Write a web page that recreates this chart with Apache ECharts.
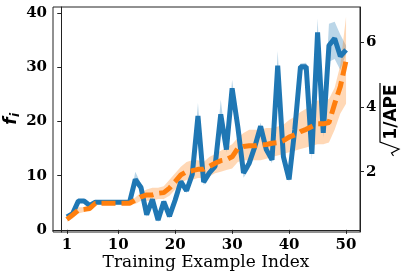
<!DOCTYPE html>
<html>
<head>
<meta charset="utf-8">
<script src="https://cdn.jsdelivr.net/npm/echarts@6/dist/echarts.min.js"></script>
<style>html,body{margin:0;padding:0;background:#fff;}#c{width:407px;height:279px;}</style>
</head>
<body>
<div id="c"></div>
<script>
var xIdx = [];
for (var k = 1; k <= 50; k++) xIdx.push(k);
var xTicks = [1, 10, 20, 30, 40, 50];
var leftTicks = [0, 10, 20, 30, 40];
var rightTicks = [2, 4, 6];

var fValues = [2.4, 3.0, 5.3, 5.3, 4.5, 5.1, 5.1, 5.1, 5.1, 5.1, 5.1, 5.1, 9.3, 7.8, 2.8, 5.6, 1.8, 5.2, 2.5, 5.5,
               8.9, 7.2, 10.2, 21.0, 8.8, 10.5, 11.7, 21.3, 14.8, 26.1, 19.0, 10.5, 12.3, 15.4, 19.1, 14.8, 12.9, 30.3, 13.5, 9.3,
               18.5, 30.1, 30.1, 14.0, 36.4, 17.9, 34.0, 35.3, 32.0, 33.2];
var fLow = [2.1, 2.7, 5.0, 5.0, 4.2, 4.9, 4.9, 4.9, 4.9, 4.9, 4.9, 4.9, 8.3, 7.2, 2.4, 5.2, 1.4, 4.8, 2.1, 5.1,
            8.4, 6.8, 9.8, 20.2, 8.2, 10.0, 11.2, 20.4, 14.2, 25.2, 18.2, 9.6, 11.2, 14.8, 18.4, 14.2, 12.3, 29.3, 12.9, 8.8,
            17.8, 29.5, 29.4, 12.9, 35.5, 17.0, 31.0, 31.5, 29.5, 32.5];
var fHigh = [2.7, 3.3, 5.6, 5.6, 4.8, 5.3, 5.3, 5.3, 5.3, 5.3, 5.3, 5.3, 10.7, 8.5, 3.2, 6.0, 2.2, 5.6, 2.9, 5.9,
             9.4, 7.6, 10.6, 23.4, 9.4, 11.0, 12.2, 24.0, 15.4, 27.7, 19.8, 11.2, 13.0, 16.0, 19.8, 15.4, 13.5, 33.0, 14.1, 9.8,
             19.2, 30.7, 30.8, 15.0, 39.0, 18.8, 38.0, 38.4, 36.0, 34.0];

var apeValues = [0.52, 0.66, 0.81, 0.83, 0.86, 1.02, 1.02, 1.02, 1.02, 1.02, 1.02, 1.02, 1.12, 1.22, 1.28, 1.28, 1.33, 1.35, 1.49, 1.69,
                 1.90, 2.00, 2.03, 2.07, 2.07, 2.16, 2.26, 2.34, 2.37, 2.46, 2.72, 2.78, 2.80, 2.80, 2.83, 2.84, 2.88, 2.90, 2.96, 3.07,
                 3.14, 3.24, 3.31, 3.40, 3.48, 3.48, 3.52, 4.10, 4.64, 5.44];
var apeLow = [0.45, 0.55, 0.70, 0.75, 0.80, 0.98, 0.98, 0.98, 0.98, 0.98, 0.98, 0.98, 1.00, 1.10, 1.10, 1.10, 1.15, 1.15, 1.25, 1.45,
              1.65, 1.75, 1.75, 1.80, 1.80, 1.85, 1.95, 2.00, 2.05, 2.10, 2.30, 2.35, 2.35, 2.35, 2.35, 2.40, 2.45, 2.50, 2.55, 2.60,
              2.65, 2.70, 2.75, 2.80, 2.85, 2.85, 2.90, 3.30, 3.80, 4.10];
var apeHigh = [0.60, 0.75, 0.90, 0.90, 0.95, 1.06, 1.06, 1.06, 1.06, 1.06, 1.06, 1.06, 1.20, 1.35, 1.45, 1.50, 1.50, 1.55, 1.75, 1.95,
               2.15, 2.30, 2.35, 2.35, 2.30, 2.45, 2.55, 2.65, 2.75, 2.85, 3.05, 3.20, 3.30, 3.30, 3.30, 3.35, 3.35, 3.40, 3.45, 3.60,
               3.70, 3.85, 3.95, 4.10, 4.20, 4.20, 4.25, 4.60, 5.30, 6.80];

function pairs(arr) { return arr.map(function (v, i) { return [xIdx[i], v]; }); }
function bandData(lo, hi) { return lo.map(function (v, i) { return [xIdx[i], v, hi[i]]; }); }

function bandSeries(lo, hi, color, axisIdx) {
  var data = bandData(lo, hi);
  return {
    type: 'custom', yAxisIndex: axisIdx, silent: true, clip: true,
    data: data,
    encode: { x: 0, y: [1, 2] },
    renderItem: function (params, api) {
      if (params.dataIndex !== 0) return null;
      var top = [], bot = [];
      for (var i = 0; i < data.length; i++) {
        top.push(api.coord([data[i][0], data[i][2]]));
        bot.push(api.coord([data[i][0], data[i][1]]));
      }
      var pts = top.concat(bot.reverse());
      return { type: 'polygon', shape: { points: pts }, style: { fill: color, stroke: null } };
    }
  };
}

var tickFont = { fontFamily: 'DejaVu Serif', fontWeight: 'bold', fontSize: 15, color: '#000' };
var axisLineStyle = { show: true, lineStyle: { color: '#222', width: 1 } };

var chart = echarts.init(document.getElementById('c'), null, { renderer: 'canvas' });
chart.setOption({
  animation: false,
  backgroundColor: '#fff',
  grid: { left: 53, right: 47, top: 7, bottom: 47, show: true, borderColor: '#222', borderWidth: 1, backgroundColor: 'transparent' },
  xAxis: {
    type: 'value', min: -1.45, max: 52.45,
    axisLine: axisLineStyle,
    axisTick: { show: true, customValues: xTicks, length: 4, lineStyle: { color: '#222' } },
    axisLabel: Object.assign({ customValues: xTicks, margin: 6 }, tickFont),
    splitLine: { show: false }
  },
  yAxis: [{
    type: 'value', min: -0.4, max: 41.1, position: 'left',
    axisLine: axisLineStyle,
    axisTick: { show: true, customValues: leftTicks, length: 4, lineStyle: { color: '#222' } },
    axisLabel: Object.assign({ customValues: leftTicks, margin: 6 }, tickFont),
    splitLine: { show: false }
  }, {
    type: 'value', min: 0.13, max: 7.1, position: 'right',
    axisLine: axisLineStyle,
    axisTick: { show: true, customValues: rightTicks, length: 4, lineStyle: { color: '#222' } },
    axisLabel: Object.assign({ customValues: rightTicks, margin: 6 }, tickFont),
    splitLine: { show: false }
  }],
  series: [
    bandSeries(fLow, fHigh, 'rgba(31,119,180,0.3)', 0),
    { type: 'line', data: pairs(fValues), symbol: 'none', lineStyle: { width: 5, color: '#1f77b4' } },
    bandSeries(apeLow, apeHigh, 'rgba(255,127,14,0.3)', 1),
    { type: 'line', yAxisIndex: 1, data: pairs(apeValues), symbol: 'none',
      lineStyle: { width: 5, color: '#ff7f0e', type: [14, 6] } }
  ],
  graphic: [
    { type: 'text', x: 206, y: 263, style: { text: 'Training Example Index', font: '17px "DejaVu Serif"', fill: '#000', textAlign: 'center', textVerticalAlign: 'middle' } },
    { type: 'group', x: 12, y: 119, rotation: Math.PI / 2, children: [
      { type: 'text', x: -2, y: 0, style: { text: 'f', font: 'italic bold 17px "DejaVu Sans"', fill: '#000', textAlign: 'center', textVerticalAlign: 'middle' } },
      { type: 'text', x: 4, y: 4, style: { text: 'i', font: 'italic bold 12px "DejaVu Sans"', fill: '#000', textAlign: 'center', textVerticalAlign: 'middle' } }
    ] },
    { type: 'group', x: 391.5, y: 120, rotation: Math.PI / 2, children: [
      { type: 'text', x: 8, y: 0, style: { text: '1/APE', font: 'bold 17px "DejaVu Sans"', fill: '#000', textAlign: 'center', textVerticalAlign: 'middle' } },
      { type: 'polyline', shape: { points: [[-36, 2], [-33, 0], [-29, 7.5], [-22, -11.5], [37, -11.5]] }, style: { stroke: '#000', lineWidth: 1.2, fill: null } }
    ] }
  ]
});
</script>
</body>
</html>
